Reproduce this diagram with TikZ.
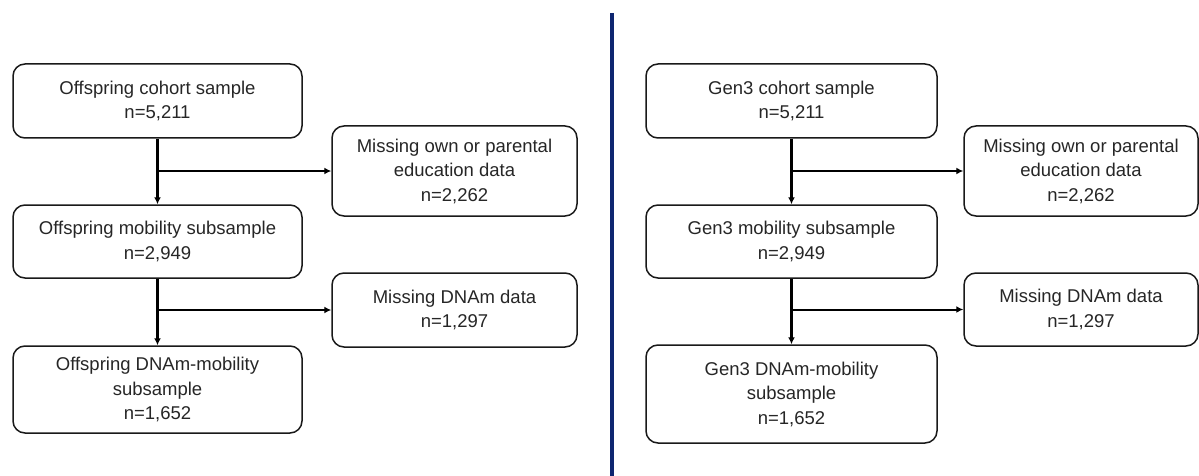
\documentclass[tikz,border=0pt]{standalone}
\usepackage{fontspec}
\setmainfont{Liberation Sans}
\usepackage{xcolor}
\usepackage{tikz}
\usetikzlibrary{arrows.meta, calc}

\definecolor{navyline}{RGB}{14,38,112}

\begin{document}
\begin{tikzpicture}[x=1pt, y=-1pt,
        stagebox/.style={
                draw=black!90,
                rounded corners=12pt,
                line width=1.5pt,
                align=center,
                inner sep=0pt,
                text=black!85,
                font=\fontsize{18.5}{24.5}\selectfont,
        },
        flow/.style={line width=2.4pt, -{Latex[length=7pt, width=7pt]}},
        drop/.style={line width=2pt, -{Latex[length=7pt, width=7pt]}},
        divider/.style={draw=navyline, line width=3.5pt},
        ]
            \useasboundingbox (0, 0) rectangle (1199, 476);

            % left panel
            \node[stagebox, minimum width=289pt, minimum height=74pt] (offCohort) at (157.5, 101) {Offspring cohort sample\\n=5,211};
            \node[stagebox, minimum width=289pt, minimum height=73pt] (offMob) at (157.5, 241.5) {Offspring mobility subsample\\n=2,949};
            \node[stagebox, minimum width=245pt, minimum height=90pt] (offMissEd) at (454.5, 171) {Missing own or parental\\education data\\n=2,262};
            \node[stagebox, minimum width=245pt, minimum height=74pt] (offMissDna) at (454.5, 310) {Missing DNAm data\\n=1,297};
            \node[stagebox, minimum width=289pt, minimum height=87pt] (offDna) at (157.5, 389.5) {Offspring DNAm-mobility\\subsample\\n=1,652};

            \draw[flow] (offCohort) -- (offMob);
            \draw[drop] (offCohort.south |- offMissEd.west) -- (offMissEd.west);
            \draw[flow] (offMob) -- (offDna);
            \draw[drop] (offMob.south |- offMissDna.west) -- (offMissDna.west);

            % divider
            \coordinate (divTop) at (612, 13);
            \coordinate (divBot) at (612, 476);
            \draw[divider] (divTop) -- (divBot);

            % right panel
            \node[stagebox, minimum width=291pt, minimum height=74pt] (genCohort) at (791.5, 101) {Gen3 cohort sample\\n=5,211};
            \node[stagebox, minimum width=291pt, minimum height=73pt] (genMob) at (791.5, 241.5) {Gen3 mobility subsample\\n=2,949};
            \node[stagebox, minimum width=234pt, minimum height=90pt] (genMissEd) at (1081, 171) {Missing own or parental\\education data\\n=2,262};
            \node[stagebox, minimum width=234pt, minimum height=73pt] (genMissDna) at (1081, 309.5) {Missing DNAm data\\n=1,297};
            \node[stagebox, minimum width=291pt, minimum height=98pt] (genDna) at (791.5, 394) {Gen3 DNAm-mobility\\subsample\\n=1,652};

            \draw[flow] (genCohort) -- (genMob);
            \draw[drop] (genCohort.south |- genMissEd.west) -- (genMissEd.west);
            \draw[flow] (genMob) -- (genDna);
            \draw[drop] (genMob.south |- genMissDna.west) -- (genMissDna.west);
        \end{tikzpicture}
\end{document}
